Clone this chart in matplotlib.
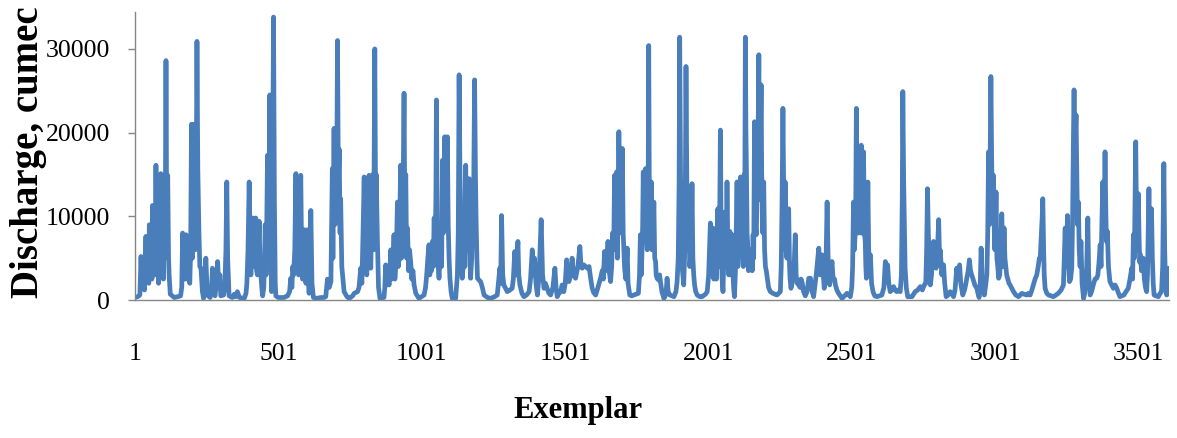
import matplotlib
matplotlib.use("Agg")
import matplotlib.pyplot as plt

# discharge, one block per stretch of the record
# ex_* = exemplar number, q_* = discharge (cumec)
ex_1 = [1, 10, 18, 22, 25, 30, 34, 39, 42, 46,
        49, 51, 54, 57, 60, 62, 65, 68, 71, 74,
        77, 80, 83, 86, 88, 91, 94, 97, 100, 103,
        106, 109, 112, 115, 118, 120, 124, 138, 150]
q_1 = [300, 400, 600, 5200, 1500, 3500, 1200, 7600, 2500, 5000,
       2000, 9000, 3500, 6000, 2500, 11300, 4000, 8000, 3000, 16100,
       6000, 12000, 2000, 12000, 4000, 15100, 3000, 9000, 2500, 12000,
       5000, 28600, 6000, 14900, 5000, 3000, 700, 300, 400]

ex_2 = [160, 164, 167, 170, 173, 176, 179, 182, 185, 188,
        192, 195, 198, 201, 205, 208, 211, 214, 217, 220,
        224, 227, 231, 236, 240, 244, 248, 252, 256, 263,
        268, 271, 275, 280, 285, 289, 293, 297, 300, 310,
        314, 318, 321, 324, 329, 340, 347, 352, 358, 365,
        382]
q_2 = [500, 1500, 8000, 2500, 6000, 2500, 7800, 3000, 6500, 2500,
       2000, 6000, 21000, 5000, 12000, 21000, 6000, 10000, 30900, 15700,
       8000, 4000, 3800, 1000, 200, 1000, 5000, 1500, 500, 300,
       1500, 3800, 1000, 500, 2000, 4600, 1500, 3000, 500, 600,
       1500, 6000, 14100, 5000, 500, 300, 700, 400, 1000, 300,
       200]

ex_3 = [388, 391, 395, 399, 402, 405, 408, 411, 414, 417,
        420, 422, 425, 428, 431, 434, 437, 440, 443, 446,
        450, 452, 455, 458, 460, 463, 466, 469, 471, 474,
        477, 480, 484, 487, 490, 492, 500, 509, 520, 533]
q_3 = [800, 2000, 6000, 14100, 8000, 3000, 7000, 9800, 4500, 4000,
       7000, 9800, 3500, 3000, 6000, 9400, 4000, 3000, 1500, 500,
       1500, 4000, 9000, 3000, 8000, 17300, 6000, 12000, 24500, 9000,
       1000, 10000, 33800, 12000, 2000, 500, 300, 300, 300, 500]

ex_4 = [540, 544, 548, 551, 554, 558, 562, 565, 568, 571,
        575, 579, 582, 585, 588, 591, 594, 597, 600, 602,
        605, 608, 611, 614, 618, 623, 635, 649, 660, 666,
        672, 678, 684]
q_4 = [1000, 2600, 1500, 4000, 3000, 6000, 15100, 4000, 8000, 3000,
       10000, 14900, 5000, 2500, 5000, 8400, 3000, 2000, 4000, 8400,
       2500, 800, 3000, 10700, 2000, 300, 200, 300, 300, 400,
       2500, 1500, 2200]

ex_5 = [689, 691, 693, 695, 698, 701, 704, 707, 710, 713,
        716, 718, 722, 726, 730, 740, 748, 760, 765, 777]
q_5 = [15700, 5000, 14000, 20500, 9000, 16000, 12000, 31000, 14000, 18000,
       8000, 12100, 4000, 2500, 1000, 400, 200, 500, 800, 1000]

ex_6 = [782, 788, 792, 796, 800, 803, 806, 809, 813, 817,
        820, 823, 826, 830, 833, 837, 840, 842, 846, 850,
        855, 862, 869, 872, 875, 879, 883, 887, 890, 893,
        896, 898, 901, 904, 907, 910, 913, 916, 919, 922,
        924, 927, 930, 933, 936, 939, 942, 945, 948, 951,
        955, 958, 962, 966, 970, 974, 980, 991, 1000, 1009]
q_6 = [1500, 3800, 2000, 8000, 14700, 6000, 9000, 3000, 8000, 14900,
       6000, 3800, 9000, 15000, 6000, 30000, 10000, 15000, 7400, 1500,
       200, 300, 300, 1500, 4200, 1800, 2500, 1800, 4000, 6000,
       2500, 3000, 5000, 7800, 2500, 4000, 7000, 11700, 4000, 5000,
       9000, 16100, 5000, 8000, 14000, 24700, 9000, 15000, 5000, 8600,
       3500, 6000, 4600, 2500, 3500, 1800, 800, 200, 400, 600]

ex_7 = [1014, 1018, 1022, 1026, 1029, 1032, 1035, 1038, 1041, 1044,
        1047, 1050, 1052, 1055, 1058, 1061, 1064, 1067, 1070, 1073,
        1076, 1078, 1081, 1083, 1085, 1087, 1090, 1093, 1096, 1099,
        1103, 1107, 1119, 1125, 1128, 1131, 1134, 1136, 1139, 1142,
        1145, 1148, 1151, 1154, 1157, 1160, 1163, 1166, 1168, 1171,
        1175, 1178, 1182, 1185, 1188, 1190, 1193, 1195, 1200, 1206,
        1212, 1218, 1230, 1241, 1255, 1264]
q_7 = [1500, 3000, 5000, 6600, 3000, 6000, 3500, 7000, 4000, 9800,
       5000, 12000, 23900, 8000, 4000, 2600, 5000, 8000, 4000, 16700,
       8000, 14000, 19500, 9000, 12000, 9000, 19500, 9000, 5000, 2600,
       1000, 200, 200, 3000, 8000, 26900, 15000, 12000, 5000, 2600,
       4000, 8000, 4000, 16100, 8000, 6000, 9000, 14500, 6000, 2600,
       5000, 10000, 14000, 26300, 15000, 10000, 5000, 2600, 2400, 2200,
       1500, 600, 300, 200, 400, 600]

ex_8 = [1273, 1276, 1279, 1283, 1287, 1293, 1299, 1308, 1316, 1320,
        1325, 1330, 1336, 1339, 1343, 1350, 1357, 1366, 1375, 1380,
        1386, 1390, 1394, 1399, 1404, 1410, 1417, 1422, 1427, 1432,
        1438, 1444, 1450, 1458, 1465, 1469, 1473, 1479, 1485, 1490,
        1496, 1501, 1506, 1510, 1514, 1520, 1525, 1530, 1537, 1545,
        1552, 1556, 1560, 1566, 1572, 1578, 1584, 1590, 1595, 1600,
        1607, 1615, 1624, 1630, 1634, 1638, 1642, 1646, 1650, 1654,
        1659, 1663, 1666, 1670, 1673, 1676, 1680, 1683, 1686, 1688,
        1691, 1694, 1697, 1700, 1703, 1708, 1712, 1717, 1720, 1726,
        1733, 1740, 1748]
q_8 = [3800, 2000, 10100, 3000, 1800, 1400, 1000, 1200, 1400, 2500,
       5800, 3000, 7000, 3000, 1800, 800, 400, 600, 1000, 2500,
       6000, 3000, 5000, 2000, 600, 3000, 9600, 3000, 1400, 2000,
       1400, 800, 600, 1500, 3800, 1500, 400, 800, 1000, 1800,
       1000, 2000, 4800, 2500, 2200, 3000, 5000, 3000, 2600, 4000,
       6400, 4000, 3800, 4200, 4000, 3800, 4000, 2500, 1400, 900,
       600, 1500, 2600, 3500, 2500, 5800, 3500, 4500, 7000, 3500,
       2200, 4000, 8000, 6000, 14900, 6000, 15300, 5000, 12000, 20100,
       10000, 15000, 8000, 18100, 8000, 3800, 2500, 6200, 2000, 600,
       500, 600, 700]

ex_9 = [1756, 1760, 1763, 1766, 1768, 1771, 1773, 1776, 1778, 1781,
        1784, 1787, 1790, 1792, 1794, 1796, 1799, 1801, 1803, 1805,
        1808, 1810, 1813, 1816, 1818, 1821, 1826, 1830, 1833, 1838,
        1845, 1850, 1854, 1856, 1860, 1866, 1880, 1887, 1891, 1895,
        1898, 1900, 1903, 1905, 1907, 1909, 1912, 1914, 1917, 1920,
        1922, 1925, 1927, 1930, 1932, 1935, 1938, 1941, 1943, 1946,
        1949, 1952, 1956, 1961, 1970, 1978, 1990, 1996]
q_9 = [800, 3000, 7800, 3000, 5000, 9000, 15300, 7000, 12000, 15700,
       8000, 6000, 12000, 30400, 14000, 12000, 7000, 14100, 6000, 6000,
       9000, 11700, 5000, 4600, 3000, 2600, 2400, 3000, 2200, 1000,
       200, 500, 1500, 2600, 1000, 600, 400, 1000, 2200, 5000,
       14000, 31400, 15000, 10000, 5000, 3800, 2500, 1800, 5000, 15000,
       27900, 14000, 12000, 6000, 9800, 4000, 5000, 9000, 13900, 5000,
       3000, 1800, 1000, 600, 400, 400, 700, 1000]

ex_10 = [2001, 2004, 2007, 2010, 2013, 2016, 2019, 2022, 2025, 2028,
         2031, 2033, 2035, 2037, 2040, 2042, 2045, 2048, 2051, 2054,
         2057, 2060, 2062, 2065, 2068, 2071, 2075, 2078, 2080, 2083,
         2086, 2088, 2091, 2094, 2097, 2100, 2103, 2106, 2109, 2112,
         2115, 2117, 2120, 2122, 2125, 2127, 2129, 2131, 2133, 2135,
         2137, 2140, 2143, 2147, 2150, 2153, 2156, 2158, 2161, 2164,
         2167, 2170, 2173, 2176, 2179, 2181, 2184, 2186, 2188, 2190,
         2193, 2196, 2199, 2202, 2206, 2210, 2216, 2225, 2239, 2245,
         2251, 2254, 2257, 2260, 2263, 2265, 2268, 2271, 2274, 2277,
         2280, 2283, 2285, 2288, 2292, 2297, 2300, 2303, 2306, 2310,
         2315, 2320, 2323, 2327, 2332, 2338, 2344, 2350, 2356, 2362,
         2367]
q_10 = [3000, 6000, 9200, 3000, 6000, 8600, 2500, 4000, 5400, 2500,
        6000, 10900, 4000, 4000, 12000, 20300, 6000, 2500, 1000, 5000,
        10500, 4000, 4000, 14100, 6000, 3000, 8200, 3000, 5000, 7800,
        3000, 1500, 400, 3000, 8000, 14100, 4000, 6000, 10000, 14700,
        6000, 12000, 10100, 4000, 15000, 12000, 31400, 20000, 15000, 8000,
        6800, 3500, 5000, 4200, 6000, 3500, 7800, 5000, 21300, 9000,
        7800, 12000, 18000, 29300, 12000, 18000, 25700, 15000, 12000, 8000,
        14100, 6000, 4000, 3500, 2500, 1500, 1000, 800, 600, 800,
        1000, 4000, 12000, 22900, 12000, 8000, 14100, 6000, 5000, 8000,
        10900, 4000, 2500, 1400, 2000, 3000, 5000, 7800, 3000, 2000,
        1800, 1500, 2500, 2100, 1000, 500, 1000, 2600, 2600, 1000,
        400]

ex_11 = [2376, 2385, 2390, 2396, 2404, 2410, 2414, 2418, 2423, 2427,
         2431, 2435, 2440, 2443, 2448, 2454, 2466, 2475, 2483, 2490,
         2495, 2500, 2503, 2506, 2509, 2512, 2514, 2516, 2518, 2520,
         2522, 2524, 2527, 2529, 2531, 2533, 2536, 2538, 2540, 2541,
         2544, 2547, 2549, 2551, 2554, 2556, 2559, 2562, 2565, 2569,
         2574, 2580, 2588, 2605, 2612, 2617, 2621, 2625, 2629, 2634,
         2640, 2646, 2651, 2657, 2663, 2669, 2673, 2676, 2678, 2681,
         2683, 2686, 2690, 2695, 2710, 2721, 2730, 2739, 2746, 2753,
         2758, 2761, 2764, 2767, 2769, 2772, 2774, 2778, 2781, 2785,
         2788, 2790, 2794, 2798, 2800, 2803, 2806, 2808, 2811, 2814,
         2817, 2820, 2824, 2829, 2836, 2843, 2848, 2855, 2860, 2866,
         2870, 2873, 2876, 2880, 2887, 2893, 2897, 2901, 2906, 2910,
         2914, 2918, 2922, 2929, 2936, 2940, 2944, 2948, 2951, 2955,
         2962]
q_11 = [3000, 6200, 3000, 5400, 1400, 4000, 11700, 4000, 1800, 3000,
        4600, 2500, 2500, 1800, 1200, 800, 200, 500, 800, 600,
        400, 1500, 4000, 11700, 6000, 8000, 12000, 22900, 14000, 12000,
        8000, 18100, 9000, 10000, 8000, 18500, 8000, 9000, 12000, 17700,
        8000, 7000, 4000, 2600, 6000, 14100, 6000, 4000, 5400, 2000,
        1000, 500, 400, 600, 1500, 4600, 3000, 4200, 2000, 1000,
        1200, 1600, 1200, 1000, 1200, 1000, 3000, 12000, 24900, 14000,
        10000, 3800, 1500, 400, 400, 1000, 1200, 1600, 1200, 1800,
        2000, 6000, 13300, 8000, 6000, 3000, 1800, 3000, 5000, 7000,
        4000, 5000, 3800, 5000, 7000, 9600, 5000, 6000, 4600, 3000,
        4000, 4200, 2000, 400, 600, 1000, 800, 400, 1200, 3800,
        2500, 3500, 4200, 2000, 600, 1200, 1800, 2600, 3500, 4800,
        3500, 3000, 2600, 1800, 1400, 800, 300, 2000, 6200, 2000,
        600]

ex_12 = [2966, 2971, 2974, 2977, 2980, 2982, 2985, 2988, 2991, 2994,
         2997, 2999, 3001, 3003, 3006, 3009, 3012, 3016, 3019, 3021,
         3023, 3026, 3028, 3031, 3034, 3037, 3040, 3044, 3048, 3052,
         3058, 3064, 3072, 3081, 3087, 3093, 3100, 3110, 3116, 3122,
         3128, 3133, 3139, 3145, 3150, 3154, 3157, 3161, 3164, 3166,
         3169, 3171, 3174, 3180, 3186, 3195, 3203, 3212, 3220, 3230,
         3238, 3241, 3244, 3247, 3249, 3252, 3255, 3259, 3263, 3267,
         3270, 3273, 3275, 3278, 3280, 3282, 3285, 3287, 3290, 3293,
         3296, 3299, 3303, 3308, 3312, 3316, 3319, 3321, 3323, 3326,
         3331, 3336, 3342, 3348, 3354, 3358, 3362, 3366, 3369, 3372,
         3375, 3378, 3381, 3383, 3386, 3388, 3391, 3395, 3400, 3406,
         3412, 3418, 3424, 3430, 3435, 3442, 3449, 3456, 3464, 3470,
         3476, 3479, 3482, 3485, 3487, 3490, 3492, 3494, 3497, 3499,
         3502, 3504, 3507, 3510, 3513, 3516, 3520, 3524, 3528, 3531,
         3533, 3536, 3539, 3542, 3545, 3548, 3551, 3554, 3560, 3569,
         3575, 3580, 3584, 3586, 3588, 3591, 3594, 3598, 3602, 3606]
q_12 = [1500, 3000, 8000, 17700, 9000, 15000, 26700, 16000, 10000, 14900,
        8000, 6000, 9000, 12900, 5000, 4000, 2600, 3000, 6000, 8000,
        10300, 6000, 4000, 8600, 5000, 4000, 3000, 2500, 2000, 1800,
        1400, 1000, 600, 400, 600, 800, 700, 600, 800, 600,
        1200, 1800, 2500, 3000, 4000, 5000, 5000, 8000, 10000, 12100,
        6000, 3000, 1400, 800, 600, 500, 400, 600, 800, 1200,
        1800, 5000, 8600, 4000, 5000, 10100, 5000, 2200, 2500, 3800,
        10000, 20000, 25100, 17000, 20000, 22100, 14000, 9000, 11700, 6000,
        4000, 7000, 2000, 200, 800, 2200, 4000, 7000, 9800, 3000,
        600, 1000, 1800, 2500, 2600, 3000, 4500, 6600, 4000, 9000,
        14100, 9000, 12000, 17700, 10000, 7000, 8200, 4000, 2200, 1800,
        1400, 1800, 1400, 800, 400, 500, 600, 1000, 1400, 2500,
        3800, 2500, 7800, 5000, 10000, 18900, 12000, 10000, 6000, 12700,
        7000, 4500, 5400, 3500, 4000, 5000, 2500, 1500, 1000, 3000,
        7000, 13300, 6000, 5000, 10900, 5000, 2000, 600, 500, 400,
        800, 1000, 4000, 10000, 16300, 6000, 2000, 600, 2000, 3800]

x_ticks = [1, 501, 1001, 1501, 2001, 2501, 3001, 3501]
y_ticks = [0, 10000, 20000, 30000]

# join the blocks into one record
exemplar, discharge = [], []
for ex, q in [(ex_1, q_1), (ex_2, q_2), (ex_3, q_3), (ex_4, q_4),
              (ex_5, q_5), (ex_6, q_6), (ex_7, q_7), (ex_8, q_8),
              (ex_9, q_9), (ex_10, q_10), (ex_11, q_11), (ex_12, q_12)]:
    assert len(ex) == len(q), (ex[0], len(ex), len(q))
    exemplar += ex
    discharge += q

plt.rcParams["font.family"] = ["Liberation Serif", "DejaVu Serif"]

fig = plt.figure(figsize=(11.77, 4.38), dpi=100)
ax = fig.add_axes([0.1147, 0.315, 0.8785, 0.6575])

ax.plot(exemplar, discharge, color="#4A7EBB", lw=3.4,
        solid_joinstyle="round", solid_capstyle="round")

ax.set_xlim(1, 3606)
ax.set_ylim(0, 34400)
ax.set_xticks(x_ticks)
ax.set_yticks(y_ticks)

# Excel-like axes: grey left/bottom lines only
for side in ["top", "right"]:
    ax.spines[side].set_visible(False)
for side in ["left", "bottom"]:
    ax.spines[side].set_color("#868686")
    ax.spines[side].set_linewidth(1.0)

ax.tick_params(axis="x", length=0, pad=31, labelsize=18.5)
ax.tick_params(axis="y", length=5, width=1, color="#868686", pad=13, labelsize=18.5)

fig.text(0.024, 0.653, "Discharge, cumec", rotation=90, fontsize=28,
         fontweight="bold", ha="center", va="center")
fig.text(0.491, 0.062, "Exemplar", fontsize=22, fontweight="bold",
         ha="center", va="center")

fig.savefig("out.png", dpi=100)
plt.close(fig)
